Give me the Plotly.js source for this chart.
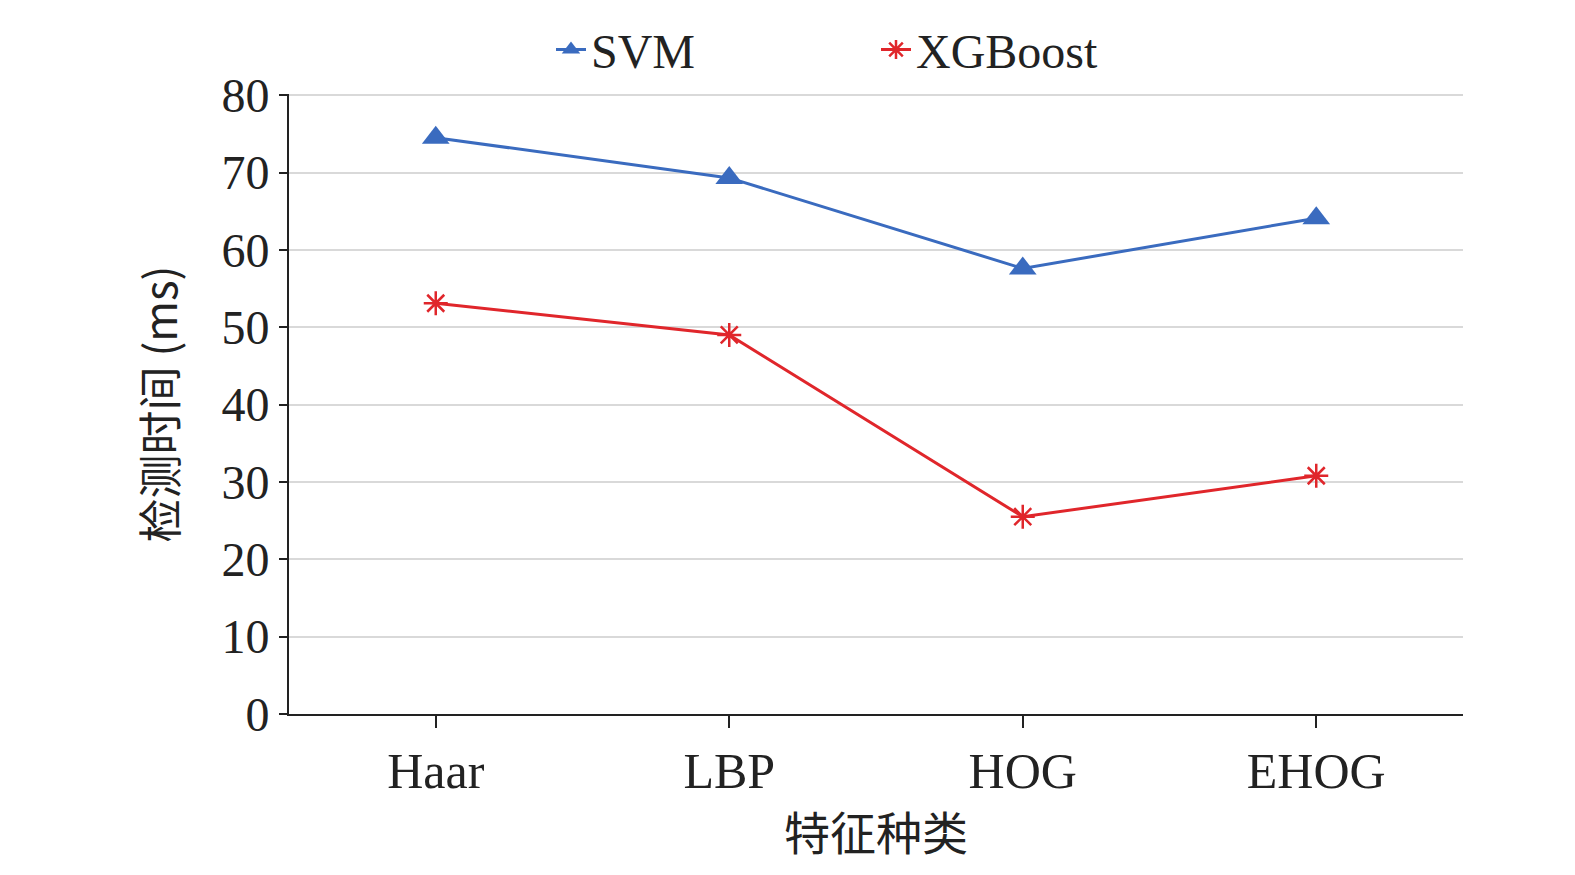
<!DOCTYPE html>
<html><head><meta charset="utf-8">
<script src="https://cdn.plot.ly/plotly-3.0.1.min.js"></script>
<style>body{margin:0}</style></head>
<body><div id="plot" style="width:1575px;height:875px"></div>
<script>
var features = ['Haar', 'LBP', 'HOG', 'EHOG'];
var svmTimes = [74.5, 69.3, 57.6, 64.1];
var xgbTimes = [53.1, 49.0, 25.5, 30.8];

var trace1 = {
  type: 'scatter', mode: 'lines+markers', name: 'SVM',
  x: features, y: svmTimes,
  line: {color: '#3A6BBF', width: 3},
  marker: {symbol: 'triangle-up', size: 24, color: '#3A6BBF'}
};
var trace2 = {
  type: 'scatter', mode: 'lines+markers', name: 'XGBoost',
  x: features, y: xgbTimes,
  line: {color: '#E0262B', width: 3},
  marker: {symbol: 'asterisk-open', size: 20, line: {color: '#E0262B', width: 2.5}}
};

var serif = 'Liberation Serif, Times New Roman, serif';
var layout = {
  width: 1575, height: 875,
  margin: {l: 289, r: 112, t: 74, b: 161},
  paper_bgcolor: '#fff', plot_bgcolor: '#fff',
  font: {family: serif, size: 46, color: '#222'},
  showlegend: true,
  legend: {orientation: 'h', x: 0.5, xanchor: 'center', y: 1.01, yanchor: 'bottom',
           entrywidth: 280, font: {family: serif, size: 48}},
  xaxis: {
    type: 'category', range: [-0.5, 3.5], automargin: false,
    showline: true, linecolor: '#222', linewidth: 2,
    ticks: 'outside', ticklen: 12, tickwidth: 2, tickcolor: '#222',
    showgrid: false, tickfont: {family: serif, size: 50},
    title: {text: '特征种类', font: {family: 'Noto Sans CJK SC', size: 46}, standoff: 20}
  },
  yaxis: {
    range: [0, 80.15], dtick: 10, automargin: false,
    showline: true, linecolor: '#222', linewidth: 2,
    ticks: 'outside', ticklen: 8, tickwidth: 2, tickcolor: '#222',
    gridcolor: '#d9d9d9', gridwidth: 2, zeroline: false,
    tickfont: {family: serif, size: 48},
    title: {text: '检测时间 (ms)', font: {family: 'Noto Sans CJK SC', size: 44}, standoff: 30}
  }
};
Plotly.newPlot('plot', [trace1, trace2], layout, {displayModeBar: false});
</script></body></html>
